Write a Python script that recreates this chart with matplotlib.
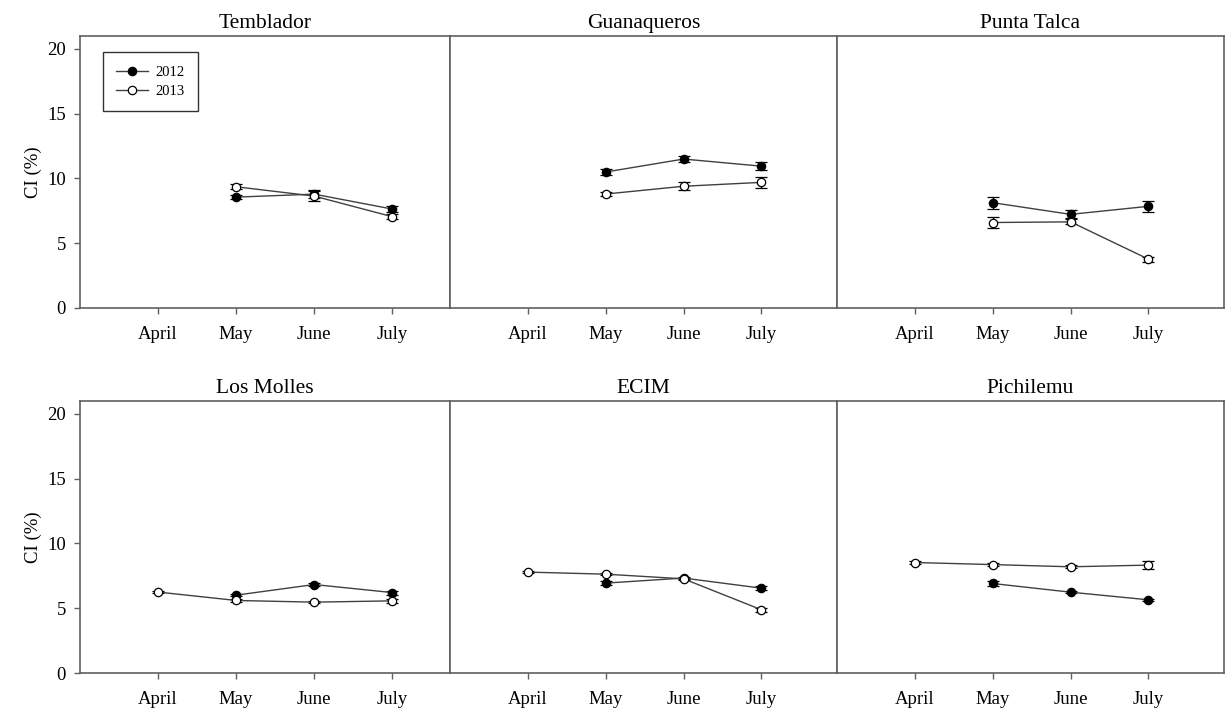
import numpy as np
import matplotlib

matplotlib.use("Agg")
import matplotlib.pyplot as plt
from matplotlib.lines import Line2D

plt.rcParams["font.family"] = ["Liberation Serif", "DejaVu Serif"]

MONTHS = ["April", "May", "June", "July"]
SITES = ["Temblador", "Guanaqueros", "Punta Talca", "Los Molles", "ECIM", "Pichilemu"]
nan = np.nan

# condition index per site, April..July (nan = not sampled)
ci_2012 = {
    "Temblador":   [nan, 8.56, 8.79, 7.64],
    "Guanaqueros": [nan, 10.5, 11.5, 10.95],
    "Punta Talca": [nan, 8.13, 7.23, 7.85],
    "Los Molles":  [nan, 6.01, 6.83, 6.21],
    "ECIM":        [nan, 6.94, 7.33, 6.55],
    "Pichilemu":   [nan, 6.91, 6.24, 5.65],
}
ci_2013 = {
    "Temblador":   [nan, 9.36, 8.64, 7.05],
    "Guanaqueros": [nan, 8.8, 9.4, 9.7],
    "Punta Talca": [nan, 6.6, 6.65, 3.77],
    "Los Molles":  [6.25, 5.6, 5.47, 5.57],
    "ECIM":        [7.79, 7.63, 7.27, 4.88],
    "Pichilemu":   [8.53, 8.37, 8.2, 8.33],
}
se_2012 = {
    "Temblador":   [nan, 0.15, 0.3, 0.2],
    "Guanaqueros": [nan, 0.2, 0.25, 0.3],
    "Punta Talca": [nan, 0.45, 0.3, 0.4],
    "Los Molles":  [nan, 0.1, 0.15, 0.15],
    "ECIM":        [nan, 0.15, 0.1, 0.15],
    "Pichilemu":   [nan, 0.2, 0.1, 0.1],
}
se_2013 = {
    "Temblador":   [nan, 0.2, 0.4, 0.2],
    "Guanaqueros": [nan, 0.15, 0.3, 0.45],
    "Punta Talca": [nan, 0.4, 0.2, 0.2],
    "Los Molles":  [0.1, 0.1, 0.1, 0.15],
    "ECIM":        [0.1, 0.1, 0.1, 0.15],
    "Pichilemu":   [0.1, 0.1, 0.1, 0.3],
}

W, H = 1226, 713
COLS = [(80, 450), (450, 837), (837, 1224)]   # pixel x-extent of each panel
ROWS = [(36, 308), (401, 673)]                 # pixel y-extent (top, bottom)
XMAX = [4.74, 4.97, 4.97]
SPINE = "#606060"
LINE = "#404040"

fig = plt.figure(figsize=(W / 100, H / 100), dpi=100)
x = np.arange(1, 5)

for i, site in enumerate(SITES):
    r, c = divmod(i, 3)
    x0, x1 = COLS[c]
    top, bot = ROWS[r]
    ax = fig.add_axes([x0 / W, (H - bot) / H, (x1 - x0) / W, (bot - top) / H])

    for vals, err, face in ((ci_2012, se_2012, "black"), (ci_2013, se_2013, "white")):
        y = np.array(vals[site]); e = np.array(err[site])
        m = np.isfinite(y)
        ax.errorbar(x[m], y[m], yerr=e[m], color=LINE, lw=1.0, marker="o", ms=6,
                    mfc=face, mec="black", mew=0.9, ecolor="black", elinewidth=1.0,
                    capsize=4, capthick=1.0)

    ax.set_xlim(0, XMAX[c])
    ax.set_ylim(0, 21)
    ax.set_xticks(x)
    ax.set_xticklabels(MONTHS)
    ax.set_yticks([0, 5, 10, 15, 20])
    ax.tick_params(direction="out", length=4, width=1, color=SPINE, labelsize=13.5)
    ax.tick_params(axis="x", pad=9)
    ax.tick_params(axis="y", pad=6)
    if c == 0:
        ax.set_ylabel("CI (%)", fontsize=13.5, labelpad=4)
    else:
        ax.tick_params(axis="y", left=False, labelleft=False)
    for s in ax.spines.values():
        s.set_color(SPINE)
        s.set_linewidth(1.2)
    ax.set_title(site, fontsize=15.5, pad=6)

    if i == 0:
        handles = [Line2D([], [], color=LINE, lw=1.0, marker="o", ms=6, mfc=f, mec="black", mew=0.9)
                   for f in ("black", "white")]
        leg = ax.legend(handles, ["2012", "2013"], loc="upper left", bbox_to_anchor=(0.062, 0.94),
                        borderaxespad=0, fontsize=10.5, frameon=True, fancybox=False,
                        handlelength=2.2, borderpad=0.9, labelspacing=0.4, handletextpad=0.5)
        leg.get_frame().set_edgecolor("black")
        leg.get_frame().set_linewidth(1.0)

fig.savefig("out.png", dpi=100)
